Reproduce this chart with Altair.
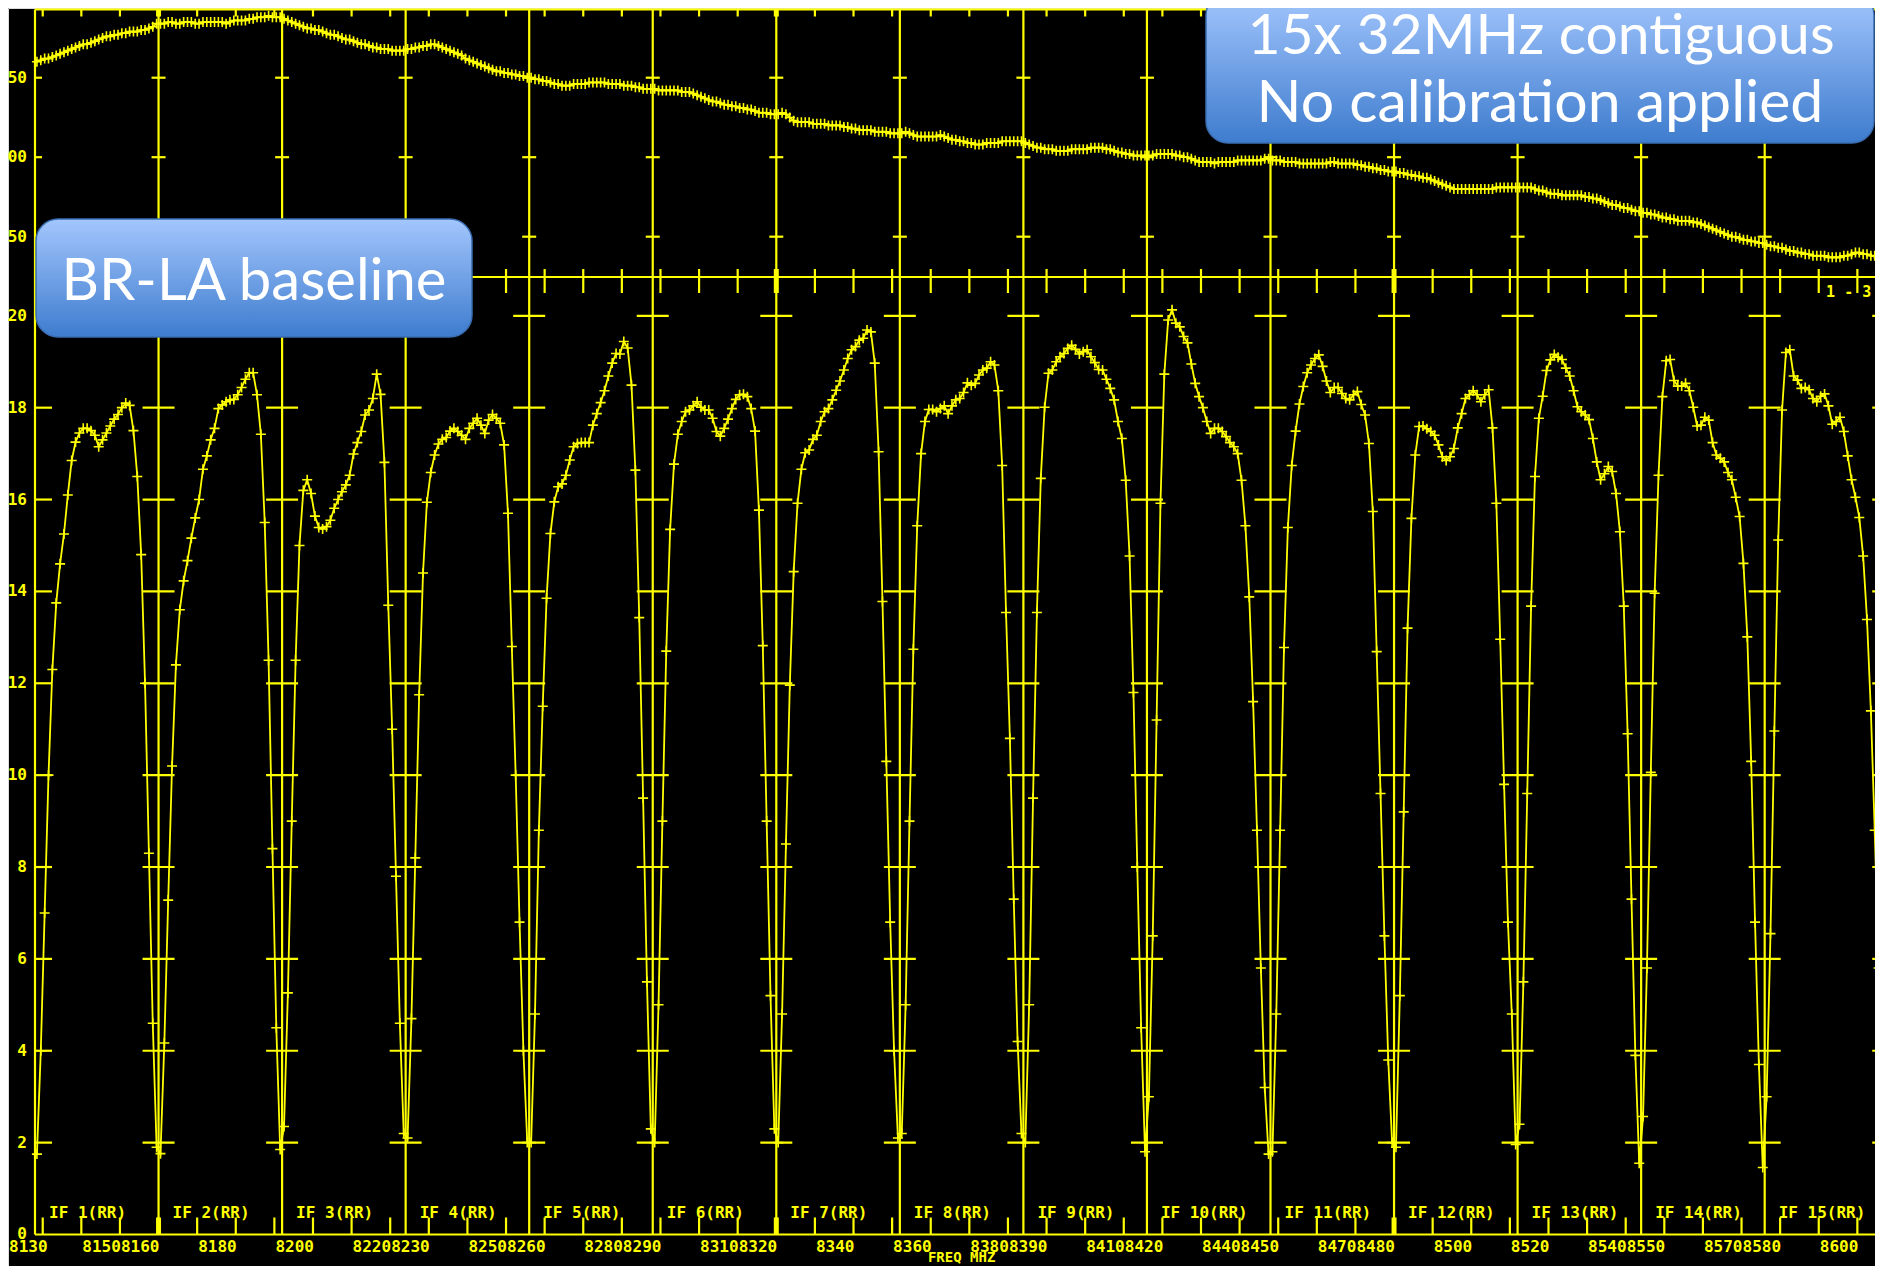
import altair as alt
import pandas as pd

# ---------------- data ----------------
IF_START_MHZ = [8138, 8170, 8202, 8234, 8266, 8298, 8330, 8362, 8394, 8426,
                8458, 8490, 8522, 8554, 8586]
IF_END_MHZ = 8618
IF_LABELS = ["IF 1(RR)", "IF 2(RR)", "IF 3(RR)", "IF 4(RR)", "IF 5(RR)",
             "IF 6(RR)", "IF 7(RR)", "IF 8(RR)", "IF 9(RR)", "IF 10(RR)",
             "IF 11(RR)", "IF 12(RR)", "IF 13(RR)", "IF 14(RR)", "IF 15(RR)"]
CHANNEL_WIDTH_MHZ = 1.0

AMP_IF1 = [1.75, 4.0, 7.0, 10.0, 12.3, 13.75, 14.6, 15.25, 16.1, 16.85, 17.25, 17.45, 17.55, 17.55, 17.5, 17.4,
           17.15, 17.3, 17.45, 17.6, 17.75, 17.85, 18.0, 18.1, 18.05, 17.5, 16.5, 14.8, 12.0, 8.3, 4.6, 1.9]
AMP_IF2 = [1.76, 4.17, 7.28, 10.2, 12.4, 13.6, 14.23, 14.67, 15.16, 15.6, 16.0, 16.66, 16.95, 17.3, 17.55, 17.98,
           18.06, 18.13, 18.17, 18.18, 18.28, 18.44, 18.62, 18.76, 18.76, 18.28, 17.42, 15.5, 12.5, 8.4, 4.5, 1.85]
AMP_IF3 = [2.35, 5.26, 9.0, 12.5, 15.0, 16.2, 16.43, 16.13, 15.64, 15.39, 15.36, 15.41, 15.55, 15.81, 16.0, 16.17,
           16.32, 16.53, 16.99, 17.24, 17.48, 17.84, 17.95, 18.2, 18.73, 18.29, 16.81, 13.7, 11.0, 7.8, 4.6, 2.2]
AMP_IF4 = [2.1, 4.7, 8.2, 11.75, 14.4, 15.94, 16.59, 16.97, 17.21, 17.31, 17.35, 17.49, 17.55, 17.48, 17.4, 17.31,
           17.55, 17.66, 17.77, 17.62, 17.44, 17.73, 17.85, 17.77, 17.66, 17.19, 15.7, 12.8, 10.0, 6.8, 4.0, 2.0]
AMP_IF5 = [2.0, 4.8, 8.8, 11.5, 13.85, 15.26, 15.95, 16.28, 16.34, 16.53, 16.86, 17.15, 17.22, 17.24, 17.24, 17.24,
           17.62, 17.87, 18.11, 18.37, 18.69, 18.97, 19.18, 19.17, 19.44, 19.3, 18.49, 16.64, 13.43, 9.5, 5.5, 2.3]
AMP_IF6 = [2.0, 5.0, 9.0, 12.7, 15.35, 16.77, 17.42, 17.7, 17.91, 17.95, 18.04, 18.13, 18.01, 17.95, 17.95, 17.77,
           17.48, 17.38, 17.55, 17.75, 17.98, 18.18, 18.28, 18.29, 18.24, 17.98, 17.49, 15.77, 12.82, 9.0, 5.2, 2.3]
AMP_IF7 = [2.0, 4.8, 8.5, 11.96, 14.43, 15.92, 16.66, 17.02, 17.08, 17.31, 17.4, 17.7, 17.91, 17.98, 18.17, 18.38,
           18.58, 18.82, 19.07, 19.26, 19.33, 19.47, 19.51, 19.69, 19.65, 18.97, 17.04, 13.78, 10.3, 6.8, 4.0, 2.1]
AMP_IF8 = [2.2, 5.0, 9.0, 12.74, 15.43, 17.0, 17.7, 17.96, 17.96, 17.91, 17.98, 18.04, 17.87, 18.04, 18.17, 18.2,
           18.33, 18.54, 18.49, 18.53, 18.71, 18.82, 18.86, 19.0, 18.93, 18.37, 16.74, 13.54, 10.8, 7.3, 4.2, 2.2]
AMP_IF9 = [2.0, 5.0, 9.5, 13.54, 16.46, 18.01, 18.75, 18.82, 19.0, 19.11, 19.18, 19.29, 19.36, 19.27, 19.17, 19.22,
           19.26, 19.11, 18.98, 18.83, 18.82, 18.62, 18.42, 18.17, 17.7, 17.33, 16.42, 14.77, 11.8, 8.0, 4.5, 1.8]
AMP_IF10 = [3.0, 6.5, 11.2, 15.92, 18.73, 19.91, 20.13, 19.84, 19.76, 19.55, 19.41, 18.95, 18.53, 18.24, 18.0, 17.7,
            17.44, 17.55, 17.55, 17.48, 17.37, 17.24, 17.15, 17.0, 16.42, 15.43, 13.88, 11.6, 8.8, 5.8, 3.2, 1.75]
AMP_IF11 = [1.8, 4.8, 8.8, 12.78, 15.39, 16.74, 17.49, 18.08, 18.46, 18.76, 18.93, 19.07, 19.15, 18.9, 18.58, 18.33,
            18.44, 18.44, 18.31, 18.2, 18.17, 18.28, 18.35, 18.07, 17.84, 17.22, 15.74, 12.69, 9.6, 6.5, 3.8, 2.0]
AMP_IF12 = [1.9, 5.2, 9.2, 13.2, 15.59, 16.97, 17.59, 17.6, 17.54, 17.48, 17.4, 17.19, 16.93, 16.85, 16.93, 17.11,
            17.56, 17.87, 18.2, 18.28, 18.37, 18.28, 18.13, 18.28, 18.39, 17.56, 15.92, 12.96, 9.8, 6.8, 4.8, 1.96]
AMP_IF13 = [2.4, 5.5, 9.6, 13.68, 16.5, 17.77, 18.25, 18.81, 19.04, 19.16, 19.1, 19.05, 18.86, 18.69, 18.37, 18.02,
            17.91, 17.84, 17.74, 17.33, 16.82, 16.43, 16.56, 16.72, 16.61, 16.13, 15.3, 13.68, 10.9, 7.3, 3.9, 1.55]
AMP_IF14 = [2.57, 5.8, 10.06, 13.96, 16.53, 18.24, 19.02, 19.05, 18.59, 18.47, 18.47, 18.53, 18.37, 18.01, 17.6, 17.62,
            17.79, 17.73, 17.24, 16.97, 16.9, 16.82, 16.59, 16.43, 16.05, 15.63, 14.61, 13.01, 10.3, 6.8, 3.7, 1.46]
AMP_IF15 = [3.0, 6.55, 10.96, 15.12, 17.95, 19.2, 19.26, 18.69, 18.6, 18.42, 18.44, 18.39, 18.2, 18.13, 18.25, 18.3,
            18.04, 17.64, 17.7, 17.79, 17.48, 16.95, 16.43, 16.05, 15.61, 14.77, 13.39, 11.4, 8.8, 5.8, 3.0, 1.2]

PH_IF1 = [160, 161, 162, 162, 163, 164, 165, 166, 167, 168, 169, 170, 171, 171, 172, 173,
          174, 175, 176, 176, 177, 177, 178, 178, 179, 179, 179, 180, 180, 181, 182, 184]
PH_IF2 = [184, 184, 185, 185, 184, 184, 185, 185, 185, 184, 184, 185, 185, 185, 185, 185,
          185, 184, 185, 186, 186, 186, 186, 187, 187, 188, 188, 188, 189, 188, 188, 188]
PH_IF3 = [187, 186, 185, 184, 183, 182, 181, 181, 180, 180, 179, 178, 177, 177, 176, 175,
          174, 174, 173, 172, 171, 171, 170, 169, 169, 168, 168, 168, 167, 167, 167, 167]
PH_IF4 = [168, 168, 169, 169, 170, 170, 171, 171, 170, 169, 168, 167, 166, 165, 164, 162,
          161, 160, 159, 158, 157, 156, 155, 154, 154, 153, 153, 152, 152, 151, 151, 150]
PH_IF5 = [150, 149, 149, 148, 148, 147, 146, 146, 145, 145, 145, 146, 146, 146, 146, 147,
          147, 147, 147, 147, 146, 146, 146, 146, 145, 145, 145, 144, 144, 143, 143, 143]
PH_IF6 = [143, 142, 142, 142, 142, 142, 142, 141, 141, 141, 140, 139, 138, 137, 136, 135,
          135, 134, 133, 133, 132, 132, 131, 131, 130, 130, 129, 128, 128, 128, 127, 127]
PH_IF7 = [127, 128, 127, 125, 123, 122, 122, 122, 122, 121, 121, 121, 121, 120, 120, 120,
          120, 119, 119, 118, 118, 117, 117, 117, 117, 116, 116, 116, 116, 115, 115, 115]
PH_IF8 = [115, 116, 115, 114, 113, 113, 113, 113, 113, 113, 114, 113, 112, 111, 111, 110,
          110, 109, 109, 108, 108, 108, 109, 109, 109, 109, 110, 110, 110, 110, 110, 110]
PH_IF9 = [109, 108, 107, 106, 106, 105, 105, 105, 104, 104, 104, 104, 105, 105, 105, 105,
          105, 106, 106, 106, 106, 105, 105, 104, 103, 103, 102, 102, 101, 101, 101, 101]
PH_IF10 = [101, 101, 102, 102, 102, 102, 102, 101, 101, 100, 100, 99, 98, 97, 97, 97,
           97, 96, 97, 97, 97, 97, 97, 98, 98, 98, 98, 98, 98, 98, 99, 99]
PH_IF11 = [98, 98, 98, 97, 97, 97, 97, 96, 96, 96, 96, 96, 96, 96, 96, 97,
           97, 96, 96, 96, 96, 96, 95, 95, 94, 94, 93, 93, 92, 92, 91, 91]
PH_IF12 = [91, 90, 90, 89, 89, 88, 88, 87, 87, 86, 85, 84, 83, 82, 81, 80,
           80, 80, 80, 80, 80, 80, 80, 80, 80, 80, 81, 81, 81, 81, 81, 81]
PH_IF13 = [81, 81, 81, 81, 80, 79, 79, 78, 77, 77, 77, 76, 76, 76, 76, 76,
           76, 75, 75, 74, 74, 73, 72, 71, 70, 70, 69, 68, 68, 67, 66, 66]
PH_IF14 = [65, 65, 64, 64, 63, 62, 62, 61, 61, 60, 60, 60, 60, 59, 59, 58,
           57, 56, 55, 54, 53, 52, 51, 50, 50, 49, 48, 48, 47, 47, 46, 46]
PH_IF15 = [45, 44, 44, 43, 43, 42, 41, 41, 40, 40, 39, 39, 38, 38, 38, 38,
           37, 37, 37, 37, 38, 38, 39, 40, 40, 39, 39, 38, 38, 37, 37, 36]

AMP = [AMP_IF1, AMP_IF2, AMP_IF3, AMP_IF4, AMP_IF5, AMP_IF6, AMP_IF7, AMP_IF8,
       AMP_IF9, AMP_IF10, AMP_IF11, AMP_IF12, AMP_IF13, AMP_IF14, AMP_IF15]
PHASE = [PH_IF1, PH_IF2, PH_IF3, PH_IF4, PH_IF5, PH_IF6, PH_IF7, PH_IF8,
         PH_IF9, PH_IF10, PH_IF11, PH_IF12, PH_IF13, PH_IF14, PH_IF15]

FREQ_TICKS_MHZ = list(range(8140, 8611, 10))
FREQ_TICK_LABELS = [8130, 8150, 8160, 8180, 8200, 8220, 8230, 8250, 8260, 8280, 8290, 8310, 8320,
                    8340, 8360, 8380, 8390, 8410, 8420, 8440, 8450, 8470, 8480, 8500, 8520, 8540,
                    8550, 8570, 8580, 8600]
AMP_TICKS = [2, 4, 6, 8, 10, 12, 14, 16, 18, 20]
AMP_TICK_LABELS = [0, 2, 4, 6, 8, 10, 12, 14, 16, 18, 20]
PHASE_TICKS = [150, 100, 50]
PHASE_TICK_TEXT = ["50", "00", "50"]   # leading digit is cut off at the left edge
X_TITLE = "FREQ MHZ"
BASELINE_TEXT = "1 - 3"
BOX1_TEXT = "BR-LA baseline"
BOX2_LINES = ["15x 32MHz contiguous", "No calibration applied"]

# ---------------- layout (scale domains) ----------------
W, H = 1867, 1258
X_DOMAIN = [8131.007, 8614.57]
AMP_DOMAIN = [-0.686, 26.701]
AMP_PANEL_TOP = 20.845
PHASE_DOMAIN = [-597.4, 193.84]
PHASE_PANEL_BOTTOM = 24.65
PHASE_PANEL_TOP = 192.9

YEL = "#ffff00"
MONO = "DejaVu Sans Mono"

xs = alt.Scale(domain=X_DOMAIN, nice=False, zero=False)
amp_s = alt.Scale(domain=AMP_DOMAIN, nice=False, zero=False)
ph_s = alt.Scale(domain=PHASE_DOMAIN, nice=False, zero=False)


def X(f="f"):
    return alt.X(f, type="quantitative", scale=xs, axis=None)


def YA(f):
    return alt.Y(f, type="quantitative", scale=amp_s, axis=None)


def YP(f):
    return alt.Y(f, type="quantitative", scale=ph_s, axis=None)


# channel tables
rows = []
for k, start in enumerate(IF_START_MHZ):
    for i in range(len(AMP[k])):
        rows.append({"f": start + (i + 0.5) * CHANNEL_WIDTH_MHZ,
                     "amp": AMP[k][i], "phase": PHASE[k][i]})
chan = pd.DataFrame(rows)

bounds = pd.DataFrame({"f": IF_START_MHZ + [IF_END_MHZ]})
bounds["a0"] = 0.0
bounds["a1"] = AMP_PANEL_TOP
bounds["p0"] = PHASE_PANEL_BOTTOM
bounds["p1"] = PHASE_PANEL_TOP

frame = pd.DataFrame({"f0": [IF_START_MHZ[0]], "f1": [IF_END_MHZ],
                      "a0": [0.0], "a1": [AMP_PANEL_TOP], "p1": [PHASE_PANEL_TOP]})

ticks = pd.DataFrame({"f": FREQ_TICKS_MHZ})
ticks["a0"] = 0.0
ticks["a1"] = AMP_PANEL_TOP
ticks["p0"] = PHASE_PANEL_BOTTOM
ticks["p1"] = PHASE_PANEL_TOP
wide = ticks[ticks["f"].isin(IF_START_MHZ)]

inner = IF_START_MHZ[1:] + [IF_END_MHZ]
amp_cross = pd.DataFrame([{"f": b, "v": v} for b in inner for v in AMP_TICKS])
ph_cross = pd.DataFrame([{"f": b, "v": v} for b in inner for v in PHASE_TICKS])
amp_left = pd.DataFrame({"f": IF_START_MHZ[0], "v": AMP_TICKS})
ph_left = pd.DataFrame({"f": IF_START_MHZ[0], "v": PHASE_TICKS})
amp_lab = pd.DataFrame({"f": IF_START_MHZ[0], "v": AMP_TICK_LABELS,
                        "t": [str(v) for v in AMP_TICK_LABELS]})
ph_lab = pd.DataFrame({"f": IF_START_MHZ[0], "v": PHASE_TICKS, "t": PHASE_TICK_TEXT})
x_lab = pd.DataFrame({"f": FREQ_TICK_LABELS, "a": 0.0, "t": [str(v) for v in FREQ_TICK_LABELS]})
if_lab = pd.DataFrame({"f": IF_START_MHZ, "a": 0.0, "t": IF_LABELS})
title_df = pd.DataFrame({"f": [(IF_START_MHZ[0] + IF_END_MHZ) / 2], "a": [0.0], "t": [X_TITLE]})
bl_df = pd.DataFrame({"f": [IF_END_MHZ], "a": [AMP_PANEL_TOP], "t": [BASELINE_TEXT]})
one = pd.DataFrame({"k": [0]})

GW = 2.2
layers = []
# IF boundary lines (both panels)
layers.append(alt.Chart(bounds).mark_rule(color=YEL, strokeWidth=GW).encode(x=X(), y=YA("a0"), y2="a1"))
layers.append(alt.Chart(bounds).mark_rule(color=YEL, strokeWidth=GW).encode(x=X(), y=YP("p0"), y2="p1"))
# horizontal frame lines
layers.append(alt.Chart(frame).mark_rule(color=YEL, strokeWidth=GW).encode(x=X("f0"), x2="f1", y=YA("a0")))
layers.append(alt.Chart(frame).mark_rule(color=YEL, strokeWidth=GW).encode(x=X("f0"), x2="f1", y=YA("a1")))
layers.append(alt.Chart(frame).mark_rule(color=YEL, strokeWidth=GW).encode(x=X("f0"), x2="f1", y=YP("p1")))
# frequency ticks
for df, sw in ((ticks, GW), (wide, 5)):
    layers.append(alt.Chart(df).mark_rule(color=YEL, strokeWidth=sw, y2Offset=-17)
                  .encode(x=X(), y=YA("a0"), y2="a0"))
    layers.append(alt.Chart(df).mark_rule(color=YEL, strokeWidth=sw, y2Offset=16)
                  .encode(x=X(), y=YA("a1"), y2="a1"))
    layers.append(alt.Chart(df).mark_rule(color=YEL, strokeWidth=sw, y2Offset=-8)
                  .encode(x=X(), y=YP("p0"), y2="p0"))
    layers.append(alt.Chart(df).mark_rule(color=YEL, strokeWidth=sw, y2Offset=7)
                  .encode(x=X(), y=YP("p1"), y2="p1"))
# value ticks / crosses
layers.append(alt.Chart(amp_cross).mark_rule(color=YEL, strokeWidth=GW, xOffset=-16, x2Offset=16)
              .encode(x=X(), x2="f", y=YA("v")))
layers.append(alt.Chart(ph_cross).mark_rule(color=YEL, strokeWidth=GW, xOffset=-7, x2Offset=7)
              .encode(x=X(), x2="f", y=YP("v")))
layers.append(alt.Chart(amp_left).mark_rule(color=YEL, strokeWidth=GW, x2Offset=17)
              .encode(x=X(), x2="f", y=YA("v")))
layers.append(alt.Chart(ph_left).mark_rule(color=YEL, strokeWidth=GW, x2Offset=7)
              .encode(x=X(), x2="f", y=YP("v")))
# labels
txt = dict(color=YEL, font=MONO, fontSize=16, fontWeight="bold")
txt15 = dict(color=YEL, font=MONO, fontSize=15, fontWeight="bold")
layers.append(alt.Chart(amp_lab).mark_text(align="right", baseline="middle", dx=-8, **txt)
              .encode(x=X(), y=YA("v"), text="t"))
layers.append(alt.Chart(ph_lab).mark_text(align="right", baseline="middle", dx=-8, **txt)
              .encode(x=X(), y=YP("v"), text="t"))
layers.append(alt.Chart(x_lab)
              .transform_calculate(fx=alt.expr.max(alt.datum.f, X_DOMAIN[0]))
              .mark_text(align="left", baseline="middle", dy=12.5, dx=1, **txt)
              .encode(x=X("fx"), y=YA("a"), text="t"))
layers.append(alt.Chart(if_lab).mark_text(align="left", baseline="middle", dx=14, dy=-21, **txt)
              .encode(x=X(), y=YA("a"), text="t"))
layers.append(alt.Chart(title_df).mark_text(align="center", baseline="middle", dy=24,
                                            color=YEL, font=MONO, fontSize=14, fontWeight="bold")
              .encode(x=X(), y=YA("a"), text="t"))
layers.append(alt.Chart(bl_df).mark_text(align="right", baseline="middle", dx=-17, dy=15, **txt15)
              .encode(x=X(), y=YA("a"), text="t"))
# data
cross = "M-1,0L1,0M0,-1L0,1"
layers.append(alt.Chart(chan).mark_line(color=YEL, strokeWidth=1.8).encode(x=X(), y=YA("amp")))
layers.append(alt.Chart(chan).mark_point(shape=cross, size=100, filled=False, color=YEL,
                                         strokeWidth=1.6, opacity=1).encode(x=X(), y=YA("amp")))
layers.append(alt.Chart(chan).mark_line(color=YEL, strokeWidth=1.8).encode(x=X(), y=YP("phase")))
layers.append(alt.Chart(chan).mark_point(shape=cross, size=100, filled=False, color=YEL,
                                         strokeWidth=1.6, opacity=1).encode(x=X(), y=YP("phase")))
# callout boxes
grad = alt.Gradient(gradient="linear",
                    stops=[alt.GradientStop(offset=0, color="#a3c6fd"),
                           alt.GradientStop(offset=1, color="#3e7cce")],
                    x1=0, x2=0, y1=0, y2=1)
layers.append(alt.Chart(one).mark_rect(color=grad, cornerRadius=22, stroke="#3a6db0", strokeWidth=1.5)
              .encode(x=alt.value(28), x2=alt.value(464), y=alt.value(211), y2=alt.value(329)))
layers.append(alt.Chart(one).mark_rect(color=grad, cornerRadius=22, stroke="#3a6db0", strokeWidth=1.5)
              .encode(x=alt.value(1198), x2=alt.value(1866), y=alt.value(-15), y2=alt.value(135)))
box_base = dict(color="white", font="Lato", align="center", baseline="alphabetic")
layers.append(alt.Chart(one).mark_text(text=BOX1_TEXT, fontSize=58, **box_base)
              .encode(x=alt.value(246), y=alt.value(292)))
layers.append(alt.Chart(one).mark_text(text=BOX2_LINES[0], fontSize=57, **box_base)
              .encode(x=alt.value(1533), y=alt.value(46)))
layers.append(alt.Chart(one).mark_text(text=BOX2_LINES[1], fontSize=59, **box_base)
              .encode(x=alt.value(1532), y=alt.value(114)))

chart = (alt.layer(*layers)
         .resolve_scale(y="independent")
         .properties(width=W, height=H, padding=0,
                     autosize=alt.AutoSizeParams(type="none"))
         .configure_view(strokeWidth=0)
         .configure(background="black"))

chart.save("out.html", embed_options={"renderer": "svg", "actions": False})
